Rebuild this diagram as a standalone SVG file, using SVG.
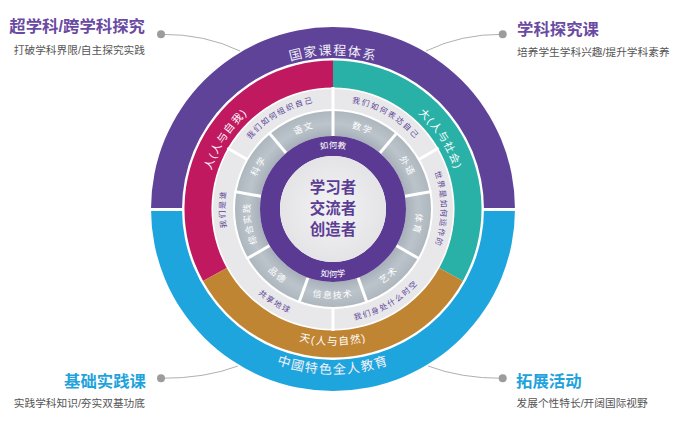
<svg xmlns="http://www.w3.org/2000/svg" width="691" height="434" viewBox="0 0 691 434">
<style>
text{font-family:"Liberation Sans","Noto Sans CJK SC",sans-serif;}
.ttl{font-size:16.4px;font-weight:bold;}
.sub{font-size:10.7px;fill:#555;}
.pur{fill:#6a4aa2;}
.blu{fill:#1fa3dc;}
.ring0{font-size:13px;fill:#f3f0f8;letter-spacing:1.4px;}
.ring2{font-size:10.5px;fill:#fff;letter-spacing:1.3px;}
.band{font-size:7.8px;fill:#5d4596;letter-spacing:1.6px;}
.subj{font-size:9px;fill:#fff;letter-spacing:1.4px;}
.how{font-size:8.5px;fill:#fff;}
.ctr{font-size:15.5px;font-weight:bold;fill:#5b3d94;}
.div{stroke:#fff;stroke-width:3;}
.conn{fill:none;stroke:#b0b0b0;stroke-width:1;}
.dot{fill:#9c9c9c;}
</style>
<defs>
<radialGradient id="gseg" cx="333" cy="209" r="99" gradientUnits="userSpaceOnUse">
<stop offset="0.74" stop-color="#a8b1ba"/>
<stop offset="0.86" stop-color="#bcc4cb"/>
<stop offset="1" stop-color="#adb5bd"/>
</radialGradient>
<radialGradient id="gctr" cx="333" cy="209" r="53" gradientUnits="userSpaceOnUse">
<stop offset="0" stop-color="#f3f3f5"/>
<stop offset="1" stop-color="#e4e4e7"/>
</radialGradient>
<path id="pA" d="M181.34,182.26 A154,154 0 0 1 484.66,182.26"/>
<path id="pB" d="M170.51,237.65 A165,165 0 0 0 495.49,237.65"/>
<path id="pC" d="M245.70,302.62 A128,128 0 0 1 383.01,91.18"/>
<path id="pD" d="M282.99,91.18 A128,128 0 0 1 420.30,302.62"/>
<path id="pE" d="M199.07,232.62 A136,136 0 0 0 466.93,232.62"/>
<path id="pF" d="M231.51,245.94 A108,108 0 0 1 415.73,139.58"/>
<path id="pG" d="M250.27,139.58 A108,108 0 0 1 434.49,245.94"/>
<path id="pH" d="M351.75,102.64 A108,108 0 0 1 351.75,315.36"/>
<path id="pI" d="M314.25,315.36 A108,108 0 0 1 314.25,102.64"/>
<path id="pJ" d="M246.44,281.64 A113,113 0 0 0 439.19,170.35"/>
<path id="pK" d="M228.23,166.67 A113,113 0 0 0 416.97,284.61"/>
<path id="pL" d="M251.26,194.59 A83,83 0 0 1 386.35,145.42"/>
<path id="pM" d="M279.65,145.42 A83,83 0 0 1 414.74,194.59"/>
<path id="pN" d="M333,126 A83,83 0 0 1 404.88,250.5"/>
<path id="pO" d="M386.35,145.42 A83,83 0 0 1 361.39,287.0"/>
<path id="pP" d="M304.61,287.0 A83,83 0 0 1 279.65,145.42"/>
<path id="pQ" d="M261.12,250.5 A83,83 0 0 1 333,126"/>
<path id="pR" d="M302.39,293.10 A89.5,89.5 0 0 0 421.14,193.46"/>
<path id="pS" d="M255.49,253.75 A89.5,89.5 0 0 0 410.51,253.75"/>
<path id="pT" d="M244.86,193.46 A89.5,89.5 0 0 0 363.61,293.10"/>
<path id="pU" d="M280.17,178.5 A61,61 0 0 1 385.83,178.5"/>
<path id="pV" d="M274.11,243 A68,68 0 0 0 391.89,243"/>
</defs>

<g id="connectors">
<path class="conn" d="M161,34.3 Q205,34 240,51"/>
<path class="conn" d="M502.7,34.3 Q461,34 426,51"/>
<path class="conn" d="M161,378.3 Q205,378.5 238,366"/>
<path class="conn" d="M502.7,378.3 Q461,378.5 428,366"/>
</g>

<g id="outer-national">
<path fill="#5f4399" d="M515,209 A182,182 0 0 0 151,209 L182,209 A151,151 0 0 1 484,209 Z"/>
<text class="ring0" text-anchor="middle"><textPath href="#pA" startOffset="50%">国家课程体系</textPath></text>
</g>
<g id="outer-china">
<path fill="#1ea5dd" d="M515,209 A182,182 0 0 1 151,209 L182,209 A151,151 0 0 0 484,209 Z"/>
<text class="ring0" text-anchor="middle"><textPath href="#pB" startOffset="50%">中國特色全人教育</textPath></text>
</g>
<line class="div" x1="150" y1="209.5" x2="183" y2="209.5"/>
<line class="div" x1="483" y1="209.5" x2="516" y2="209.5"/>

<g id="ring-ren">
<path fill="#c1195f" d="M333,60.5 A148.5,148.5 0 0 0 203.1,281.0 L226.7,267.9 A121.5,121.5 0 0 1 333,87.5 Z"/>
<text class="ring2" text-anchor="middle"><textPath href="#pC" startOffset="50%">人(人与自我)</textPath></text>
</g>
<g id="ring-da">
<path fill="#2ab1a7" d="M333,60.5 A148.5,148.5 0 0 1 462.9,281.0 L439.3,267.9 A121.5,121.5 0 0 0 333,87.5 Z"/>
<text class="ring2" text-anchor="middle"><textPath href="#pD" startOffset="50%">大(人与社会)</textPath></text>
</g>
<g id="ring-tian">
<path fill="#c08533" d="M203.1,281.0 A148.5,148.5 0 0 0 462.9,281.0 L439.3,267.9 A121.5,121.5 0 0 1 226.7,267.9 Z"/>
<text class="ring2" text-anchor="middle"><textPath href="#pE" startOffset="50%">天(人与自然)</textPath></text>
</g>

<g id="theme-band">
<circle cx="333" cy="209" r="110" fill="none" stroke="#e8e8eb" stroke-width="20"/>
<line class="div" x1="333" y1="111" x2="333" y2="87"/>
<line class="div" stroke-width="4" x1="417.87" y1="160" x2="438.65" y2="148"/>
<line class="div" stroke-width="4" x1="248.13" y1="160" x2="227.35" y2="148"/>
<line class="div" x1="333" y1="307" x2="333" y2="331"/>
</g>
<g id="theme-organize"><text class="band" text-anchor="middle"><textPath href="#pF" startOffset="50%">我们如何组织自己</textPath></text></g>
<g id="theme-express"><text class="band" text-anchor="middle"><textPath href="#pG" startOffset="50%">我们如何表达自己</textPath></text></g>
<g id="theme-world"><text class="band" text-anchor="middle"><textPath href="#pH" startOffset="50%">世界是如何运作的</textPath></text></g>
<g id="theme-who"><text class="band" text-anchor="middle"><textPath href="#pI" startOffset="50%">我们是谁</textPath></text></g>
<g id="theme-time"><text class="band" text-anchor="middle"><textPath href="#pJ" startOffset="50%">我们身处什么时空</textPath></text></g>
<g id="theme-earth"><text class="band" text-anchor="middle"><textPath href="#pK" startOffset="50%">共享地球</textPath></text></g>

<g id="subjects-ring">
<circle cx="333" cy="209" r="85.5" fill="none" stroke="url(#gseg)" stroke-width="25"/>
<line class="div" x1="333" y1="136" x2="333" y2="109"/>
<line class="div" x1="379.92" y1="153.08" x2="397.28" y2="132.4"/>
<line class="div" x1="404.89" y1="196.32" x2="431.5" y2="191.6"/>
<line class="div" x1="396.22" y1="245.5" x2="419.6" y2="259"/>
<line class="div" x1="357.97" y1="277.60" x2="367.2" y2="303"/>
<line class="div" x1="308.03" y1="277.60" x2="298.8" y2="303"/>
<line class="div" x1="269.78" y1="245.5" x2="246.4" y2="259"/>
<line class="div" x1="261.11" y1="196.32" x2="234.5" y2="191.6"/>
<line class="div" x1="286.08" y1="153.08" x2="268.7" y2="132.4"/>
</g>
<g id="subj-chinese"><text class="subj" text-anchor="middle"><textPath href="#pL" startOffset="50%">语文</textPath></text></g>
<g id="subj-math"><text class="subj" text-anchor="middle"><textPath href="#pM" startOffset="50%">数学</textPath></text></g>
<g id="subj-foreign"><text class="subj" text-anchor="middle"><textPath href="#pN" startOffset="50%">外语</textPath></text></g>
<g id="subj-pe"><text class="subj" text-anchor="middle"><textPath href="#pO" startOffset="50%">体育</textPath></text></g>
<g id="subj-practice"><text class="subj" text-anchor="middle"><textPath href="#pP" startOffset="50%">综合实践</textPath></text></g>
<g id="subj-science"><text class="subj" text-anchor="middle"><textPath href="#pQ" startOffset="50%">科学</textPath></text></g>
<g id="subj-art"><text class="subj" text-anchor="middle"><textPath href="#pR" startOffset="50%">艺术</textPath></text></g>
<g id="subj-it"><text class="subj" text-anchor="middle"><textPath href="#pS" startOffset="50%">信息技术</textPath></text></g>
<g id="subj-moral"><text class="subj" text-anchor="middle"><textPath href="#pT" startOffset="50%">品德</textPath></text></g>

<g id="how-ring">
<circle cx="333" cy="209" r="63" fill="none" stroke="#5b3a93" stroke-width="20"/>
<text class="how" text-anchor="middle"><textPath href="#pU" startOffset="50%">如何教</textPath></text>
<text class="how" text-anchor="middle"><textPath href="#pV" startOffset="50%">如何学</textPath></text>
</g>

<g id="center">
<circle cx="333" cy="209" r="53" fill="url(#gctr)"/>
<text class="ctr" x="333" y="193" text-anchor="middle">学习者</text>
<text class="ctr" x="333" y="214" text-anchor="middle">交流者</text>
<text class="ctr" x="333" y="234.5" text-anchor="middle">创造者</text>
</g>

<g id="label-tl">
<circle class="dot" cx="161" cy="34.3" r="4"/>
<text class="ttl pur" x="145" y="32" text-anchor="end">超学科/跨学科探究</text>
<text class="sub" x="145" y="54" text-anchor="end">打破学科界限/自主探究实践</text>
</g>
<g id="label-tr">
<circle class="dot" cx="502.7" cy="34.3" r="4"/>
<text class="ttl pur" x="517" y="35">学科探究课</text>
<text class="sub" x="517" y="55.5">培养学生学科兴趣/提升学科素养</text>
</g>
<g id="label-bl">
<circle class="dot" cx="161" cy="378.3" r="4"/>
<text class="ttl blu" x="146" y="386.5" text-anchor="end">基础实践课</text>
<text class="sub" x="145" y="407" text-anchor="end">实践学科知识/夯实双基功底</text>
</g>
<g id="label-br">
<circle class="dot" cx="502.7" cy="378.3" r="4"/>
<text class="ttl blu" x="516" y="386.5">拓展活动</text>
<text class="sub" x="516.5" y="406.5">发展个性特长/开阔国际视野</text>
</g>
</svg>
